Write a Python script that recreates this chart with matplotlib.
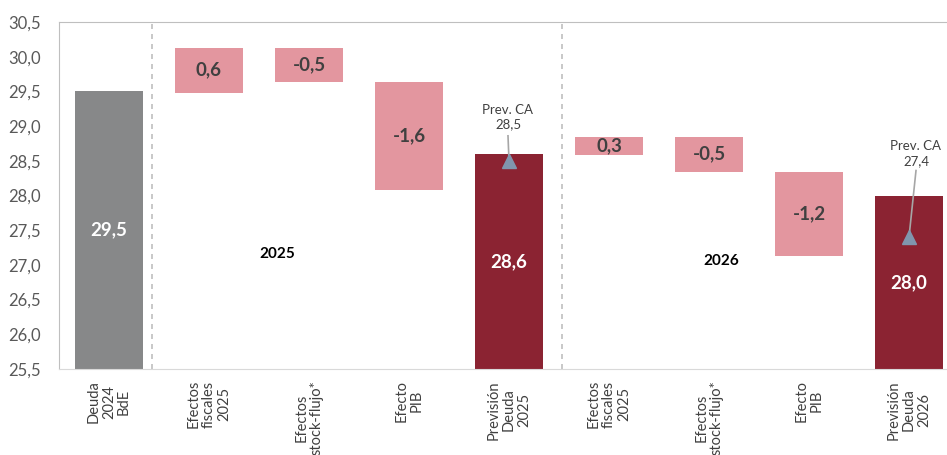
import numpy as np
import matplotlib.pyplot as plt

#-------------- Data ------------------------------------------------------------

labels = ['Deuda\n2024\nBdE', 'Efectos\nfiscales\n2025', 'Efectos\nstock-flujo*', 'Efecto\nPIB',
          'Previsión\nDeuda\n2025', 'Efectos\nfiscales\n2025', 'Efectos\nstock-flujo*', 'Efecto\nPIB',
          'Previsión\nDeuda\n2026']

# totals (bars from axis floor)
total_idx = [0, 4, 8]
total_val = [29.5, 28.6, 28.0]
total_txt = ['29,5', '28,6', '28,0']

# floating bars (bottom, top)
float_idx = [1, 2, 3, 5, 6, 7]
float_bot = [29.48, 29.63, 28.08, 28.58, 28.34, 27.13]
float_top = [30.13, 30.13, 29.63, 28.85, 28.85, 28.34]
float_txt = ['0,6', '-0,5', '-1,6', '0,3', '-0,5', '-1,2']

# Prev. CA
ca_idx = [4, 8]
ca_val = [28.5, 27.4]
ca_txt = ['Prev. CA\n28,5', 'Prev. CA\n27,4']

ymin = 25.5

#-------------- Plot ------------------------------------------------------------

plt.rcParams['font.family'] = ['Lato', 'DejaVu Sans']

fig = plt.figure(figsize=(9.47, 4.55), dpi=100)
ax = fig.add_axes([59/947, 1-369/455, 888/947, 347/455])

w = 0.68
cols_tot = ['#878889', '#8B2332', '#8B2332']
tv = np.array(total_val)
ax.bar(total_idx, tv - ymin, bottom=ymin, width=w, color=cols_tot)
for i, v, t in zip(total_idx, total_val, total_txt):
    ax.text(i, (v + ymin) / 2, t, ha='center', va='center', color='white',
            fontsize=13.5, fontweight='bold')

fb = np.array(float_bot)
ft = np.array(float_top)
ax.bar(float_idx, ft - fb, bottom=fb, width=w, color='#E3969F')
for i, b, t, s in zip(float_idx, fb, ft, float_txt):
    ax.text(i, (b + t) / 2, s, ha='center', va='center', color='#404040',
            fontsize=13.5, fontweight='bold')

# Prev. CA markers
ca_text_x = [3.99, 8.07]
ca_text_y = [29.13, 28.6]
ca_line_top = [28.86, 28.36]
for i, v, t, tx, ty, lt in zip(ca_idx, ca_val, ca_txt, ca_text_x, ca_text_y, ca_line_top):
    ax.plot([tx, i], [lt, v], color='#A6A6A6', lw=1.2, zorder=3)
    ax.plot([i], [v], marker='^', color='#8096AE', markersize=10, ls='none', zorder=4)
    ax.text(tx, ty, t, ha='center', va='center', color='#404040', fontsize=9.5,
            linespacing=1.3)

# year labels
ax.text(1.68, 27.16, '2025', ha='center', va='center', fontsize=11, fontweight='bold')
ax.text(6.12, 27.06, '2026', ha='center', va='center', fontsize=11, fontweight='bold')

# dashed separators
for xs in [0.43, 4.53]:
    ax.axvline(xs, color='#BFBFBF', ls=(0, (3, 3)), lw=1.2)

ax.set_xlim(-0.5, 8.38)
ax.set_ylim(ymin, 30.5)
yt = np.arange(25.5, 30.51, 0.5)
ax.set_yticks(yt)
ax.set_yticklabels([f'{v:.1f}'.replace('.', ',') for v in yt], fontsize=12, color='#595959')
ax.set_xticks(range(len(labels)))
ax.set_xticklabels(labels, rotation=90, ha='center', va='top', multialignment='center',
                   fontsize=10.5, color='#404040', linespacing=1.1)
ax.tick_params(length=0)
ax.tick_params(axis='y', pad=13)
ax.tick_params(axis='x', pad=8)

for sp in ['left', 'top']:
    ax.spines[sp].set_color('#BFBFBF')
ax.spines['bottom'].set_color('#D9D9D9')
ax.spines['right'].set_visible(False)

plt.savefig('out.png', dpi=100)
plt.close('all')
